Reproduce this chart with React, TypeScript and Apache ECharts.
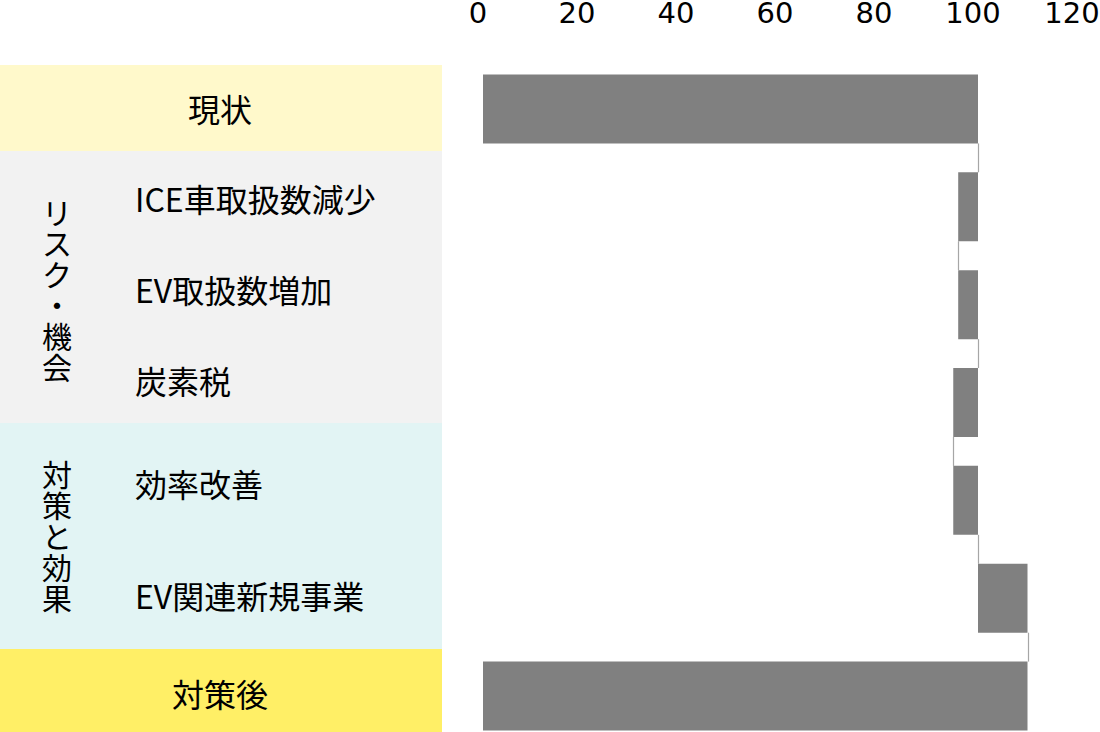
import React, { useEffect, useRef } from "react";
import * as echarts from "echarts";

// ---- data ----
const categories = ["現状", "ICE車取扱数減少", "EV取扱数増加", "炭素税", "効率改善", "EV関連新規事業", "対策後"];
const startValue = 100;
const changes = [-4, 4, -5, 5, 10];
const endValue = 110;
const groupLabels = ["リスク・機会", "対策と効果"];
const axisMin = 0;
const axisMax = 120;
const axisInterval = 20;

// ---- derived waterfall data ----
const baseData: number[] = [0];
const valueData: number[] = [startValue];
const runningTotals: number[] = [startValue];
let running = startValue;
for (const c of changes) {
  const next = running + c;
  baseData.push(Math.min(running, next));
  valueData.push(Math.abs(c));
  running = next;
  runningTotals.push(running);
}
baseData.push(0);
valueData.push(endValue);

const CJK = '"Noto Sans CJK JP", "Noto Sans", sans-serif';
const GAP = 0.295;

export default function App() {
  const ref = useRef<HTMLDivElement>(null);
  useEffect(() => {
    if (!ref.current) return;
    const chart = echarts.init(ref.current, null, { renderer: "svg" });
    const label = (text: string, x: number, y: number, align: string) => ({
      type: "text",
      x,
      y,
      style: { text, font: `32px ${CJK}`, fill: "#000", align, verticalAlign: "middle" },
    });
    const vertical = (text: string, cx: number, cy: number) => {
      const chars = text.split("");
      const step = 31;
      const top = cy - ((chars.length - 1) * step) / 2;
      return chars.map((ch, k) => ({
        type: "text",
        x: cx,
        y: top + k * step,
        style: { text: ch, font: `30px ${CJK}`, fill: "#000", align: "center", verticalAlign: "middle" },
      }));
    };
    chart.setOption({
      animation: false,
      backgroundColor: "#ffffff",
      grid: { left: 483, width: 594, top: 60, height: 685, containLabel: false, outerBoundsMode: "none" },
      xAxis: {
        type: "value",
        position: "top",
        min: axisMin,
        max: axisMax,
        interval: axisInterval,
        axisLine: { show: false },
        axisTick: { show: false },
        splitLine: { show: false },
        axisLabel: {
          fontFamily: '"DejaVu Sans", Verdana, sans-serif',
          fontSize: 29,
          lineHeight: 24,
          color: "#000",
          margin: 35,
          padding: [0, 10, 0, 0],
          hideOverlap: false,
        },
      },
      yAxis: {
        type: "category",
        inverse: true,
        data: categories,
        axisLine: { show: false },
        axisTick: { show: false },
        axisLabel: { show: false },
        splitLine: { show: false },
      },
      graphic: [
        { type: "rect", z: -10, shape: { x: 0, y: 65, width: 442, height: 86 }, style: { fill: "#FFF9CB" } },
        { type: "rect", z: -10, shape: { x: 0, y: 151, width: 442, height: 272 }, style: { fill: "#F2F2F2" } },
        { type: "rect", z: -10, shape: { x: 0, y: 423, width: 442, height: 226 }, style: { fill: "#E2F4F4" } },
        { type: "rect", z: -10, shape: { x: 0, y: 649, width: 442, height: 90 }, style: { fill: "#FFEF66" } },
        label(categories[0], 220, 108, "center"),
        label(categories[1], 135, 198, "left"),
        label(categories[2], 135, 289, "left"),
        label(categories[3], 135, 380, "left"),
        label(categories[4], 135, 483, "left"),
        label(categories[5], 135, 595, "left"),
        label(categories[6], 220, 693, "center"),
        ...vertical(groupLabels[0], 57, 288),
        ...vertical(groupLabels[1], 57, 535),
      ],
      series: [
        {
          type: "custom",
          name: "connector",
          z: 1,
          data: runningTotals.map((v, i) => [v, i]),
          renderItem: (params: any, api: any) => {
            const v = api.value(0);
            const i = api.value(1);
            const p1 = api.coord([v, i]);
            const p2 = api.coord([v, i + 1]);
            const band = api.size([0, 1])[1];
            const half = (band * (1 - GAP)) / 2;
            const x = Math.round(p1[0]) + 0.5;
            return {
              type: "line",
              shape: { x1: x, y1: p1[1] + half, x2: x, y2: p2[1] - half },
              style: { stroke: "#A6A6A6", lineWidth: 1.2 },
            };
          },
        },
        {
          type: "bar",
          name: "base",
          stack: "w",
          barCategoryGap: `${GAP * 100}%`,
          itemStyle: { color: "transparent" },
          emphasis: { disabled: true },
          data: baseData,
        },
        {
          type: "bar",
          name: "value",
          stack: "w",
          barCategoryGap: `${GAP * 100}%`,
          itemStyle: { color: "#808080" },
          emphasis: { disabled: true },
          data: valueData,
        },
      ],
    });
    return () => chart.dispose();
  }, []);
  return (
    <div style={{ position: "absolute", left: 0, top: 0, width: 1100, height: 732, overflow: "hidden" }}>
      <div ref={ref} style={{ width: 1100, height: 760 }} />
    </div>
  );
}
